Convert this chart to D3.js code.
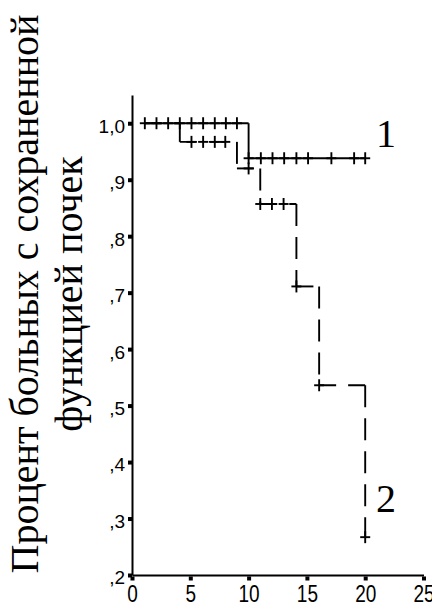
<!DOCTYPE html>
<html>
<head>
<meta charset="utf-8">
<script src="https://cdn.jsdelivr.net/npm/d3@7"></script>
<style>
  html, body { margin: 0; padding: 0; background: #fff; }
  svg { display: block; }
  .title-text { font-family: 'Liberation Serif', 'Times New Roman', serif; }
</style>
</head>
<body>
<svg id="chart" width="432" height="607"></svg>
<script>
// Kaplan–Meier curves of preserved renal function, two groups.

// Axis ticks
const xTicks = [0, 5, 10, 15, 20, 25];
const xTickLabels = ["0", "5", "10", "15", "20", "25"];
const yTicks = [1.0, 0.9, 0.8, 0.7, 0.6, 0.5, 0.4, 0.3, 0.2];
const yTickLabels = ["1,0", ",9", ",8", ",7", ",6", ",5", ",4", ",3", ",2"];

// Group 1 (solid curve)
const group1Start = 1.1;
const group1End = 20.0;
const group1EventTimes = [10.0];
const group1Survival = [1.0, 0.938];
const group1Censored = [1.1, 2.1, 3.1, 4.1, 5.1, 6.1, 7.1, 8.05, 9.0,
                        10.0, 11.05, 12.05, 13.05, 14.1, 15.1, 17.1, 19.05, 20.0];

// Group 2 (dashed curve)
const group2Start = 1.1;
const group2End = 20.0;
const group2EventTimes = [4.1, 9.0, 11.0, 14.1, 16.05, 20.0];
const group2Survival = [1.0, 0.967, 0.92, 0.857, 0.711, 0.536, 0.267];
const group2Censored = [5.1, 6.1, 7.1, 8.0, 10.0, 11.0, 12.0, 13.0, 14.1, 16.05, 20.0];

const curveLabels = ["1", "2"];
const titleLines = ["Процент больных с сохраненной", "функцией почек"];

const serif = "'Liberation Serif', 'Times New Roman', serif";
const sans = "'Liberation Sans', Arial, sans-serif";

const svg = d3.select("#chart");

const x = d3.scaleLinear().domain([0, 25]).range([132, 423.5]);
const y = d3.scaleLinear().domain([0.2, 1.05]).range([575, 95]);

// Y axis
const yAxis = svg.append("g")
  .attr("transform", "translate(132,0)")
  .call(d3.axisLeft(y)
    .tickValues(yTicks)
    .tickFormat((d, i) => yTickLabels[i])
    .tickSize(0)
    .tickSizeOuter(0)
    .tickPadding(7));
yAxis.select(".domain").attr("stroke", "#000").attr("stroke-width", 2);
yAxis.selectAll(".tick text")
  .attr("font-family", sans)
  .attr("font-size", 19)
  .attr("fill", "#000")
  .attr("dy", "0.47em");
yAxis.selectAll(".tick").append("rect")
  .attr("x", -4).attr("y", -2).attr("width", 4).attr("height", 4)
  .attr("fill", "#000");

// X axis (labels drawn vertically stretched)
const xAxis = svg.append("g")
  .attr("transform", "translate(0,575)")
  .call(d3.axisBottom(x)
    .tickValues(xTicks)
    .tickFormat((d, i) => xTickLabels[i])
    .tickSize(0)
    .tickSizeOuter(0));
xAxis.select(".domain").attr("stroke", "#000").attr("stroke-width", 2);
xAxis.selectAll(".tick text")
  .attr("font-family", sans)
  .attr("font-size", 19)
  .attr("fill", "#000")
  .attr("y", 0).attr("dy", 0)
  .attr("transform", "translate(0,27) scale(1,1.28)");
xAxis.selectAll(".tick").append("rect")
  .attr("x", -2).attr("y", 1.5).attr("width", 4).attr("height", 4)
  .attr("fill", "#000");

// Step function helpers
function survivalAt(t, eventTimes, surv) {
  let s = surv[0];
  eventTimes.forEach((e, i) => { if (t >= e) s = surv[i + 1]; });
  return s;
}
function stepSegments(start, end, eventTimes, surv) {
  const segs = [];
  let t0 = start;
  eventTimes.forEach((e, i) => {
    segs.push({ x1: t0, y1: surv[i], x2: e, y2: surv[i], dir: "h" });
    segs.push({ x1: e, y1: surv[i], x2: e, y2: surv[i + 1], dir: "v" });
    t0 = e;
  });
  if (end > t0) segs.push({ x1: t0, y1: surv[surv.length - 1], x2: end, y2: surv[surv.length - 1], dir: "h" });
  return segs;
}

function drawCurve(start, end, eventTimes, surv, censored, dashed) {
  const g = svg.append("g").attr("stroke", "#000").attr("stroke-width", 1.9).attr("fill", "none");
  const segs = stepSegments(start, end, eventTimes, surv);
  g.selectAll("line.seg").data(segs).join("line")
    .attr("class", "seg")
    .attr("x1", d => x(d.x1)).attr("y1", d => y(d.y1))
    .attr("x2", d => x(d.x2)).attr("y2", d => y(d.y2))
    .attr("stroke-dasharray", d => dashed ? (d.dir === "h" ? "17,12" : "22,11") : null);
  const marks = g.selectAll("g.cens").data(censored).join("g")
    .attr("class", "cens")
    .attr("transform", t => `translate(${x(t)},${y(survivalAt(t, eventTimes, surv))})`);
  marks.append("line").attr("x1", -5).attr("x2", 5).attr("y1", 0).attr("y2", 0);
  marks.append("line").attr("x1", 0).attr("x2", 0).attr("y1", -6).attr("y2", 6);
}

drawCurve(group1Start, group1End, group1EventTimes, group1Survival, group1Censored, false);
drawCurve(group2Start, group2End, group2EventTimes, group2Survival, group2Censored, true);

// Curve numbers
svg.append("text")
  .attr("x", 376).attr("y", 147)
  .attr("font-family", serif)
  .attr("font-size", 40).attr("fill", "#000")
  .text(curveLabels[0]);
svg.append("text")
  .attr("x", 376).attr("y", 512)
  .attr("font-family", serif)
  .attr("font-size", 40).attr("fill", "#000")
  .text(curveLabels[1]);

// Rotated axis title, one text per line
const titleY = [38, 82];
svg.selectAll("text.title-text").data(titleLines).join("text")
  .attr("class", "title-text")
  .attr("transform", (d, i) => `translate(${titleY[i]},294) rotate(-90)`)
  .attr("font-family", serif)
  .attr("font-size", 40)
  .attr("fill", "#000")
  .attr("text-anchor", "middle")
  .text(d => d);
</script>
</body>
</html>
